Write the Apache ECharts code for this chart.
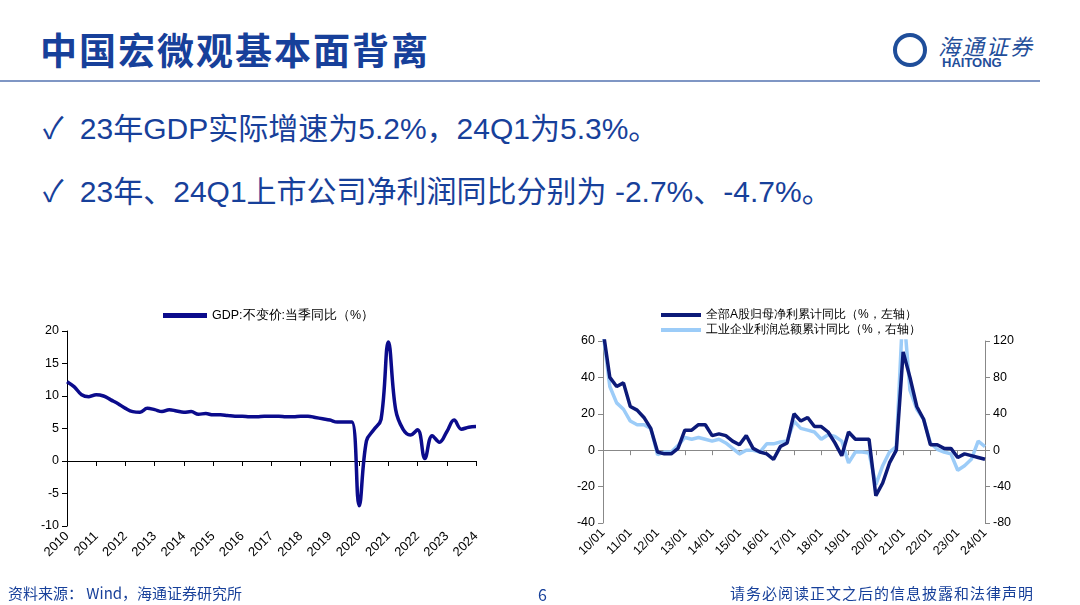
<!DOCTYPE html>
<html>
<head>
<meta charset="utf-8">
<script src="https://cdn.jsdelivr.net/npm/echarts@6/dist/echarts.min.js"></script>
<style>
body{margin:0;width:1080px;height:605px;background:#fff;font-family:"Noto Sans CJK SC",sans-serif;position:relative;overflow:hidden}
.t{position:absolute;white-space:nowrap}
.b{font-family:"Liberation Sans","Noto Sans CJK SC",sans-serif}
</style>
</head>
<body>
<div class="t" style="left:40px;top:22px;font-size:37px;font-weight:bold;color:#17409a;letter-spacing:2px">中国宏微观基本面背离</div>
<div style="position:absolute;left:0;top:80px;width:1040px;height:2px;background:#7f96c4"></div>
<div style="position:absolute;left:893px;top:33px;width:34px;height:34px;border-radius:50%;border:4px solid #1f4e9a;box-sizing:border-box"></div>
<div class="t" style="left:938px;top:29px;font-size:22px;color:#1f4e9a;font-style:italic;letter-spacing:2px">海通证券</div>
<div class="t" style="left:942px;top:55px;font-size:13px;font-weight:bold;color:#1f4e9a;font-family:'Liberation Sans'">HAITONG</div>
<div class="t b" style="left:43px;top:104px;font-size:30px;color:#17409a">✓ <span style="margin-left:8px">23年GDP实际增速为5.2%，24Q1为5.3%。</span></div>
<div class="t b" style="left:43px;top:167px;font-size:30px;color:#17409a">✓ <span style="margin-left:8px">23年、24Q1上市公司净利润同比分别为 -2.7%、-4.7%。</span></div>
<div id="chart" style="position:absolute;left:0;top:0;width:1080px;height:605px"></div>
<div class="t" style="left:8px;top:582px;font-size:15px;color:#17409a">资料来源： Wind，海通证券研究所</div>
<div class="t" style="left:538px;top:582px;font-size:16px;color:#17409a">6</div>
<div class="t" style="left:730px;top:582px;font-size:15px;color:#17409a;letter-spacing:1px">请务必阅读正文之后的信息披露和法律声明</div>
<script>
var years = ['2010','2011','2012','2013','2014','2015','2016','2017','2018','2019','2020','2021','2022','2023','2024'];
var gdp = [12.2,11.4,10.2,9.9, 10.2,10.0,9.4,8.8, 8.1,7.6,7.5,8.1, 7.9,7.6,7.9,7.7,
	7.5,7.6,7.2,7.3, 7.1,7.1,7.0,6.9, 6.9,6.8,6.8,6.9, 6.9,6.9,6.8,6.8,
	6.9,6.9,6.7,6.5, 6.3,6.0,6.0,6.0, -6.9,3.1,4.8,6.4, 18.3,7.9,4.9,4.0,
	4.8,0.4,3.9,2.9, 4.5,6.3,4.9,5.2, 5.3];
var ylabels = ['10/01','11/01','12/01','13/01','14/01','15/01','16/01','17/01','18/01','19/01','20/01','21/01','22/01','23/01','24/01'];
var aShare = [66,40,35,37, 24,22,18,12, -1,-2,-2,1, 11,11,14,14,
	8,9,8,5, 3,8,1,-1, -2,-5,2,4, 20,16,18,13,
	13,10,4,-3, 10,6,6,6, -25,-18,-7,0, 54,40,24,17,
	3,3,1,1, -4,-2,-3,-4, -5];
var industry = [130,70,52,45, 32,28,28,24, -5,-2,-2,5, 14,12,14,12,
	10,12,8,2, -4,0,0,-2, 7,7,9,10, 32,24,22,20,
	12,17,15,10, -14,-2,-2,-3, -38,-17,-2,4, 160,66,45,34,
	8,1,-2,-4, -22,-17,-10,10, 4];

function quarterCats(labels){
	var c = [];
	for (var i = 0; i < labels.length; i++) {
		c.push(labels[i]);
		if (i < labels.length - 1) { c.push(labels[i]+'q2'); c.push(labels[i]+'q3'); c.push(labels[i]+'q4'); }
	}
	return c;
}
var showYear = function(i){ return i % 4 === 0; };
var axisFont = {color:'#000',fontSize:12.5,fontFamily:'Liberation Sans'};

var chart = echarts.init(document.getElementById('chart'));
chart.setOption({
	animation:false,
	legend:[{
		data:['GDP:不变价:当季同比（%）'], left:158, top:304, itemWidth:44, itemHeight:5, icon:'rect',
		textStyle:{fontSize:12.5,color:'#000'}
	},{
		data:['全部A股归母净利累计同比（%，左轴）','工业企业利润总额累计同比（%，右轴）'],
		orient:'vertical', left:656, top:304, itemGap:3, itemWidth:40, itemHeight:4, icon:'rect',
		textStyle:{fontSize:12,color:'#000'}
	}],
	grid:[
		{left:67,top:331,width:409,height:195},
		{left:603,top:341,width:382,height:182}
	],
	xAxis:[{
		gridIndex:0,type:'category',data:quarterCats(years),boundaryGap:false,
		axisLine:{lineStyle:{color:'#000'}},
		axisTick:{interval:showYear,lineStyle:{color:'#000'}},
		axisLabel:{interval:showYear,rotate:45,formatter:function(v){return v.slice(0,4);},color:'#000',fontSize:13,fontFamily:'Liberation Sans',margin:8}
	},{
		gridIndex:1,type:'category',data:quarterCats(ylabels),boundaryGap:false,
		axisLine:{show:false,onZero:false},
		axisTick:{show:false},
		axisLabel:{interval:showYear,rotate:45,formatter:function(v){return v.slice(0,5);},color:'#000',fontSize:12.5,fontFamily:'Liberation Sans',margin:8}
	},{
		gridIndex:1,type:'category',data:quarterCats(ylabels),boundaryGap:false,position:'bottom',
		axisLine:{onZero:true,onZeroAxisIndex:1,lineStyle:{color:'#888'}},
		axisTick:{interval:showYear,lineStyle:{color:'#888'}},
		axisLabel:{show:false}
	}],
	yAxis:[{
		gridIndex:0,type:'value',min:-10,max:20,interval:5,
		axisLine:{show:true,lineStyle:{color:'#000'}},axisTick:{show:true},
		splitLine:{show:false},axisLabel:axisFont
	},{
		gridIndex:1,type:'value',min:-40,max:60,interval:20,
		axisLine:{show:true,lineStyle:{color:'#888'}},axisTick:{show:true},
		splitLine:{show:false},axisLabel:axisFont
	},{
		gridIndex:1,type:'value',min:-80,max:120,interval:40,position:'right',
		axisLine:{show:true,lineStyle:{color:'#888'}},axisTick:{show:true},
		splitLine:{show:false},axisLabel:axisFont
	}],
	series:[{
		name:'GDP:不变价:当季同比（%）',type:'line',xAxisIndex:0,yAxisIndex:0,
		data:gdp,smooth:0.4,showSymbol:false,lineStyle:{width:3.5,color:'#0b0b8c'},itemStyle:{color:'#0b0b8c'}
	},{
		name:'工业企业利润总额累计同比（%，右轴）',type:'line',xAxisIndex:1,yAxisIndex:2,
		data:industry,showSymbol:false,lineStyle:{width:3.5,color:'#9cccf8'},itemStyle:{color:'#9cccf8'}
	},{
		name:'全部A股归母净利累计同比（%，左轴）',type:'line',xAxisIndex:1,yAxisIndex:1,
		data:aShare,showSymbol:false,lineStyle:{width:3.5,color:'#0c1a78'},itemStyle:{color:'#0c1a78'}
	}]
});
</script>
</body>
</html>
